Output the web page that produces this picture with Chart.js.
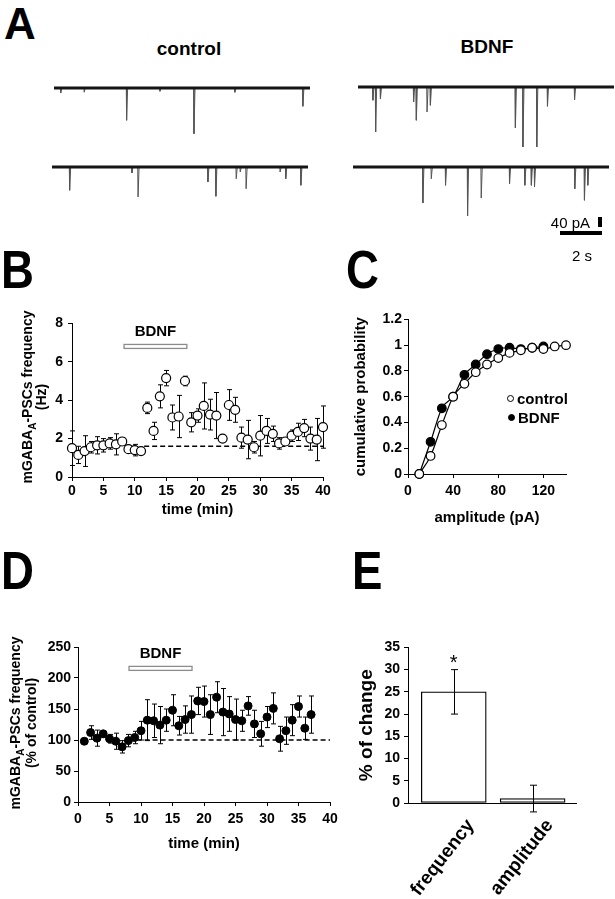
<!DOCTYPE html>
<html>
<head>
<meta charset="utf-8">
<script src="https://cdn.jsdelivr.net/npm/chart.js@4.4.1/dist/chart.umd.min.js"></script>
<style>
body { margin: 0; background: #fff; }
#fig { position: relative; width: 615px; height: 899px; overflow: hidden; font-family: "Liberation Sans", Arial, Helvetica, sans-serif; color: #000; }
#fig canvas { position: absolute; }
.lbl { position: absolute; white-space: nowrap; line-height: 1; }
.letter { position: absolute; font-weight: bold; line-height: 1; transform-origin: left top; }
.head { position: absolute; width: 120px; text-align: center; font: bold 19px/19px "Liberation Sans", Arial, sans-serif; }
.ytitle { position: absolute; width: 220px; text-align: center; font-weight: bold; font-size: 14px; transform: rotate(-90deg); white-space: nowrap; }
.ytitle sub { font-size: 10px; line-height: 0; }
.bar { position: absolute; background: #000; }
.mark { position: absolute; width: 5px; height: 5px; border: 1.2px solid #000; border-radius: 50%; }
</style>
</head>
<body>
<div id="fig">
  <canvas id="trCtl1"></canvas>
  <canvas id="trCtl2"></canvas>
  <canvas id="trBdnf1"></canvas>
  <canvas id="trBdnf2"></canvas>
  <canvas id="chartB"></canvas>
  <canvas id="chartC"></canvas>
  <canvas id="chartD"></canvas>
  <canvas id="chartE"></canvas>

  <div class="letter" style="left:4px;top:2px;font-size:44px">A</div>
  <div class="letter" style="left:1px;top:243px;font-size:53px;transform:scaleX(0.86)">B</div>
  <div class="letter" style="left:346px;top:243px;font-size:53px;transform:scaleX(0.86)">C</div>
  <div class="letter" style="left:1px;top:544px;font-size:53px;transform:scaleX(0.86)">D</div>
  <div class="letter" style="left:352px;top:544px;font-size:53px;transform:scaleX(0.86)">E</div>

  <div class="head" style="left:129px;top:39px">control</div>
  <div class="head" style="left:427px;top:37px">BDNF</div>

  <div class="lbl" style="right:25px;top:215px;font-size:15px">40 pA</div>
  <div class="bar" id="sbV"></div>
  <div class="bar" id="sbH"></div>
  <div class="lbl" style="left:572px;top:248px;font-size:15px">2 s</div>

  <div class="ytitle" style="left:-76px;top:383px;line-height:14px">mGABA<sub>A</sub>-PSCs frequency<br>(Hz)</div>
  <div class="ytitle" style="left:-87px;top:707px;line-height:16px">mGABA<sub>A</sub>-PSCs frequency<br>(% of control)</div>

  <div class="mark" style="left:507px;top:395px;background:#fff"></div>
  <div class="lbl" style="left:517px;top:391px;font-weight:bold;font-size:15px">control</div>
  <div class="mark" style="left:508px;top:414px;background:#000"></div>
  <div class="lbl" style="left:518px;top:410px;font-weight:bold;font-size:15px">BDNF</div>
</div>

<script>
// ---- panel A: miniature events (time s, amplitude pA)
const ctl1Times = [0.32, 1.44, 3.46, 5.05, 6.67, 8.62, 11.86];
const ctl1Amps = [20, 17, 129, 13, 183, 17, 73];
const ctl2Times = [0.84, 3.81, 4.10, 7.43, 7.81, 8.78, 8.97, 9.25, 10.87, 11.14, 11.86];
const ctl2Amps = [93, 24, 120, 60, 117, 47, 20, 87, 20, 47, 73];
const bdnf1Times = [0.71, 0.84, 1.07, 2.65, 2.78, 3.29, 3.45, 7.50, 7.86, 8.52, 9.03, 10.32];
const bdnf1Amps = [53, 180, 47, 60, 133, 100, 73, 163, 240, 240, 77, 51];
const bdnf2Times = [3.33, 3.73, 4.41, 5.46, 6.11, 7.46, 8.19, 8.50, 8.65, 10.57, 11.03, 11.19];
const bdnf2Amps = [144, 47, 73, 196, 124, 67, 73, 73, 80, 87, 133, 73];
const traceLen = 12.2;   // s
const scalePa = 40;
const scaleSec = 2;

// ---- panel B: mGABAA-PSC frequency (Hz), mean and error
const timeB = [0, 1, 2, 3, 4, 5, 6, 7, 8, 9, 10, 11, 12, 13, 14, 15, 16, 17, 18, 19, 20,
  21, 22, 23, 24, 25, 26, 27, 28, 29, 30, 31, 32, 33, 34, 35, 36, 37, 38, 39, 40];
const freqB = [1.5, 1.15, 1.35, 1.55, 1.65, 1.65, 1.75, 1.7, 1.85, 1.45, 1.4, 1.35,
  3.6, 2.4, 4.2, 5.15, 3.1, 3.15, 5.0, 2.85, 3.2, 3.7, 3.25, 3.2,
  2.0, 3.75, 3.5, 2.05, 1.95, 1.55, 2.15, 2.4, 2.25, 1.75, 1.85, 2.15,
  2.35, 2.55, 2.0, 1.95, 2.6];
const errB = [0.9, 0.45, 0.8, 0.3, 0.45, 0.35, 0.3, 0.55, 0.2, 0.15, 0.3, 0.1,
  0.3, 0.45, 0.6, 0.4, 0.65, 1.1, 0.25, 0.5, 0.35, 1.2, 0.8, 1.2,
  0.15, 0.8, 0.65, 0.55, 1.0, 0.3, 1.05, 0.65, 0.4, 0.3, 0.2, 0.3,
  0.45, 0.45, 0.6, 1.1, 1.1];
const baseB = 1.6;
const baseStartB = 11.5;
const bdnfSpanB = [8.3, 18.3];
const bdnfLevelB = 6.8;
const bdnfTextB = 7.57;
const xTicksB = [0, 5, 10, 15, 20, 25, 30, 35, 40];
const yTicksB = [0, 2, 4, 6, 8];

// ---- panel C: cumulative amplitude distribution
const ampCtlC = [10, 20, 30, 40, 50, 60, 70, 80, 90, 100, 110, 120, 130, 140];
const cumCtlC = [0, 0.14, 0.38, 0.6, 0.7, 0.79, 0.85, 0.9, 0.94, 0.96, 0.98, 0.97, 0.99, 1.0];
const ampBdnfC = [10, 20, 30, 40, 50, 60, 70, 80, 90, 100, 110, 120];
const cumBdnfC = [0, 0.25, 0.51, 0.6, 0.77, 0.85, 0.93, 0.97, 0.98, 0.97, 0.98, 0.99];
const xTicksC = [0, 40, 80, 120];
const yTicksC = [0, 0.2, 0.4, 0.6, 0.8, 1, 1.2];

// ---- panel D: frequency normalised to control (%)
const timeD = [1, 2, 3, 4, 5, 6, 7, 8, 9, 10, 11, 12, 13, 14, 15, 16, 17, 18, 19,
  20, 21, 22, 23, 24, 25, 26, 27, 28, 29, 30, 31, 32, 33, 34, 35, 36, 37];
const pctD = [98, 112, 103, 110, 102, 98, 89, 99, 104, 115, 132, 131, 124, 132, 148, 123, 133, 141, 163,
  162, 141, 169, 145, 142, 133, 131, 155, 126, 110, 137, 151, 102, 115, 132, 154, 119, 141];
const errD = [3, 11, 13, 5, 7, 13, 10, 10, 10, 15, 33, 27, 30, 18, 25, 15, 22, 30, 22,
  25, 32, 25, 38, 28, 33, 17, 15, 22, 20, 17, 25, 20, 22, 25, 17, 18, 30];
const baseD = 100;
const baseStartD = 9.3;
const bdnfSpanD = [8.1, 18.1];
const bdnfLevelD = 215.5;
const bdnfTextD = 239;
const xTicksD = [0, 5, 10, 15, 20, 25, 30, 35, 40];
const yTicksD = [0, 50, 100, 150, 200, 250];

// ---- panel E: % of change
const catsE = ['frequency', 'amplitude'];
const changeE = [25, 1];
const errE = [5, 3];
const yTicksE = [0, 5, 10, 15, 20, 25, 30, 35];

const FONT = '"Liberation Sans", Arial, Helvetica, sans-serif';
Chart.defaults.font.family = FONT;
Chart.defaults.color = '#000';

const paPerPx = 4;
const pxPerSec = 21;

// scale bars
const sbV = document.getElementById('sbV');
sbV.style.cssText += 'left:598px;top:217px;width:4px;height:' + (scalePa / paPerPx) + 'px';
const sbH = document.getElementById('sbH');
sbH.style.cssText += 'left:560px;top:231px;height:4px;width:' + (scaleSec * pxPerSec) + 'px';

function spikes(times, amps) {
	const pts = [];
	times.forEach((t, i) => {
		pts.push({x: t - 0.015, y: 0}, {x: t, y: -amps[i]}, {x: t + 0.05, y: 0}, {x: t + 0.05, y: null});
	});
	return pts;
}

function traceChart(id, left, baseline, times, amps) {
	const c = document.getElementById(id);
	const h = 72;
	c.width = Math.round(traceLen * pxPerSec);
	c.height = h;
	c.style.left = left + 'px';
	c.style.top = (baseline - 3) + 'px';
	new Chart(c, {
		type: 'line',
		data: {
			datasets: [
				{data: [{x: 0, y: 0}, {x: traceLen, y: 0}], borderColor: '#151515', borderWidth: 3, pointRadius: 0},
				{data: spikes(times, amps), borderColor: '#555', borderWidth: 1, pointRadius: 0}
			]
		},
		options: {
			responsive: false, animation: false, events: [],
			layout: {padding: 0},
			plugins: {legend: {display: false}, tooltip: {enabled: false}},
			scales: {
				x: {type: 'linear', display: false, min: 0, max: traceLen},
				y: {display: false, min: 12 - h * paPerPx, max: 12}
			}
		}
	});
}

traceChart('trCtl1', 54, 88, ctl1Times, ctl1Amps);
traceChart('trCtl2', 52, 167, ctl2Times, ctl2Amps);
traceChart('trBdnf1', 358, 87, bdnf1Times, bdnf1Amps);
traceChart('trBdnf2', 353, 167, bdnf2Times, bdnf2Amps);

function place(id, box, m) {
	const c = document.getElementById(id);
	c.width = box.r - box.l + m.l + m.r;
	c.height = box.b - box.t + m.t + m.b;
	c.style.left = (box.l - m.l) + 'px';
	c.style.top = (box.t - m.t) + 'px';
	return c;
}

function axis(o) {
	return {
		type: 'linear', min: o.min, max: o.max, offset: false,
		afterBuildTicks: a => { a.ticks = o.ticks.map(v => ({value: v})); },
		afterFit: o.fit,
		border: {color: '#000', width: 1},
		grid: {drawOnChartArea: false, color: '#000', tickColor: '#000', tickLength: 4, lineWidth: 1},
		ticks: {font: {size: 14, weight: 'bold'}, padding: o.pad, color: '#000', autoSkip: false, maxRotation: 0, callback: v => String(v)},
		title: o.title ? {display: true, text: o.title, font: {size: o.titleSize || 15, weight: 'bold'}, padding: 0, color: '#000'} : {display: false}
	};
}

function errorBars(xs, ys, errs, cap, after) {
	const draw = chart => {
		const {ctx, scales: {x, y}} = chart;
		ctx.save();
		ctx.strokeStyle = '#000';
		ctx.lineWidth = 1;
		xs.forEach((xv, i) => {
			const px = Math.round(x.getPixelForValue(xv)) + 0.5;
			const lo = y.getPixelForValue(ys[i] - errs[i]);
			const hi = y.getPixelForValue(ys[i] + errs[i]);
			ctx.beginPath();
			ctx.moveTo(px, lo); ctx.lineTo(px, hi);
			ctx.moveTo(px - cap, lo); ctx.lineTo(px + cap, lo);
			ctx.moveTo(px - cap, hi); ctx.lineTo(px + cap, hi);
			ctx.stroke();
		});
		ctx.restore();
	};
	return after ? {id: 'errbarsAfter', afterDatasetsDraw: draw} : {id: 'errbars', beforeDatasetsDraw: draw};
}

function bdnfBar(span, level, textLevel) {
	return {
		id: 'bdnfBar',
		afterDatasetsDraw(chart) {
			const {ctx, scales: {x, y}} = chart;
			const x0 = x.getPixelForValue(span[0]);
			const x1 = x.getPixelForValue(span[1]);
			const yc = y.getPixelForValue(level);
			ctx.save();
			ctx.fillStyle = '#fff';
			ctx.strokeStyle = '#8c8c8c';
			ctx.lineWidth = 1.3;
			ctx.fillRect(x0, yc - 2, x1 - x0, 4);
			ctx.strokeRect(x0, yc - 2, x1 - x0, 4);
			ctx.fillStyle = '#000';
			ctx.font = 'bold 15px ' + FONT;
			ctx.textAlign = 'center';
			ctx.textBaseline = 'middle';
			ctx.fillText('BDNF', x.getPixelForValue((span[0] + span[1]) / 2), y.getPixelForValue(textLevel));
			ctx.restore();
		}
	};
}

const common = m => ({
	responsive: false, animation: false, events: [],
	layout: {padding: {left: 0, top: m.t, right: m.r, bottom: 0}},
	plugins: {legend: {display: false}, tooltip: {enabled: false}}
});

// 1. panel B
const boxB = {l: 72, t: 320, r: 323, b: 477}, mB = {l: 40, t: 10, r: 14, b: 42};
new Chart(place('chartB', boxB, mB), {
	type: 'scatter',
	data: {
		datasets: [
			{data: timeB.map((t, i) => ({x: t, y: freqB[i]})), pointRadius: 4.5, pointBorderWidth: 1.2,
				pointBackgroundColor: '#fff', pointBorderColor: '#000', clip: false, order: 1},
			{data: [{x: baseStartB, y: baseB}, {x: 40, y: baseB}], showLine: true, borderColor: '#000',
				borderWidth: 1.4, borderDash: [5, 3], pointRadius: 0, order: 2}
		]
	},
	options: Object.assign(common(mB), {
		scales: {
			x: axis({min: 0, max: 40, ticks: xTicksB, pad: 2, title: 'time (min)', fit: a => { a.height = mB.b; }}),
			y: axis({min: 0, max: 8, ticks: yTicksB, pad: 5, fit: a => { a.width = mB.l; }})
		}
	}),
	plugins: [errorBars(timeB, freqB, errB, 2.5, false), bdnfBar(bdnfSpanB, bdnfLevelB, bdnfTextB)]
});

// 2. panel C
const boxC = {l: 408, t: 319, r: 566, b: 474}, mC = {l: 56, t: 10, r: 10, b: 53};
new Chart(place('chartC', boxC, mC), {
	type: 'line',
	data: {
		datasets: [
			{data: ampCtlC.map((a, i) => ({x: a, y: cumCtlC[i]})), borderColor: '#000', borderWidth: 1.2,
				cubicInterpolationMode: 'monotone', pointRadius: 4.3, pointBorderWidth: 1.2,
				pointBackgroundColor: '#fff', pointBorderColor: '#000', clip: false, order: 1},
			{data: ampBdnfC.map((a, i) => ({x: a, y: cumBdnfC[i]})), borderColor: '#000', borderWidth: 1.2,
				cubicInterpolationMode: 'monotone', pointRadius: 4.3, pointBorderWidth: 1.2,
				pointBackgroundColor: '#000', pointBorderColor: '#000', clip: false, order: 2}
		]
	},
	options: Object.assign(common(mC), {
		scales: {
			x: axis({min: 0, max: 140, ticks: xTicksC, pad: 5, title: 'amplitude (pA)', fit: a => { a.height = mC.b; }}),
			y: axis({min: 0, max: 1.2, ticks: yTicksC, pad: 2, title: 'cumulative probability', fit: a => { a.width = mC.l; }})
		}
	})
});

// 3. panel D
const boxD = {l: 78, t: 647, r: 330, b: 802}, mD = {l: 45, t: 12, r: 14, b: 51};
new Chart(place('chartD', boxD, mD), {
	type: 'scatter',
	data: {
		datasets: [
			{data: timeD.map((t, i) => ({x: t, y: pctD[i]})), pointRadius: 4, pointBorderWidth: 1,
				pointBackgroundColor: '#000', pointBorderColor: '#000', clip: false, order: 1},
			{data: [{x: baseStartD, y: baseD}, {x: 40, y: baseD}], showLine: true, borderColor: '#000',
				borderWidth: 1.4, borderDash: [5, 3], pointRadius: 0, order: 2}
		]
	},
	options: Object.assign(common(mD), {
		scales: {
			x: axis({min: 0, max: 40, ticks: xTicksD, pad: 5, title: 'time (min)', fit: a => { a.height = mD.b; }}),
			y: axis({min: 0, max: 250, ticks: yTicksD, pad: 3, fit: a => { a.width = mD.l; }})
		}
	}),
	plugins: [errorBars(timeD, pctD, errD, 2.5, false), bdnfBar(bdnfSpanD, bdnfLevelD, bdnfTextD)]
});

// 4. panel E
const boxE = {l: 408, t: 647, r: 576, b: 803}, mE = {l: 53, t: 12, r: 30, b: 96};
const catX = catsE.map((c, i) => i + 1);
new Chart(place('chartE', boxE, mE), {
	type: 'bar',
	data: {
		datasets: [{
			data: changeE.map((v, i) => ({x: catX[i], y: v})),
			backgroundColor: '#fff', borderColor: '#000', borderWidth: 1.3, borderSkipped: false, barThickness: 65
		}]
	},
	options: Object.assign(common(mE), {
		scales: {
			x: {
				type: 'linear', offset: false, min: 0.42, max: 2.55,
				afterBuildTicks: a => { a.ticks = catX.map(v => ({value: v})); },
				afterFit: a => { a.height = mE.b; },
				border: {color: '#000', width: 1},
				grid: {display: false, drawTicks: false},
				ticks: {callback: v => catsE[v - 1], minRotation: 52, maxRotation: 52, autoSkip: false,
					padding: 12, labelOffset: 17, font: {size: 19, weight: 'bold'}, color: '#000'}
			},
			y: axis({min: 0, max: 35, ticks: yTicksE, pad: 4, title: '% of change', titleSize: 19, fit: a => { a.width = mE.l; }})
		}
	}),
	plugins: [errorBars(catX, changeE, errE, 3.5, true), {
		id: 'star',
		afterDatasetsDraw(chart) {
			const {ctx, scales: {x, y}} = chart;
			ctx.save();
			ctx.font = '20px ' + FONT;
			ctx.textAlign = 'center';
			ctx.textBaseline = 'alphabetic';
			ctx.fillText('*', x.getPixelForValue(catX[0]), y.getPixelForValue(changeE[0] + errE[0]) - 1);
			ctx.restore();
		}
	}]
});
</script>
</body>
</html>
